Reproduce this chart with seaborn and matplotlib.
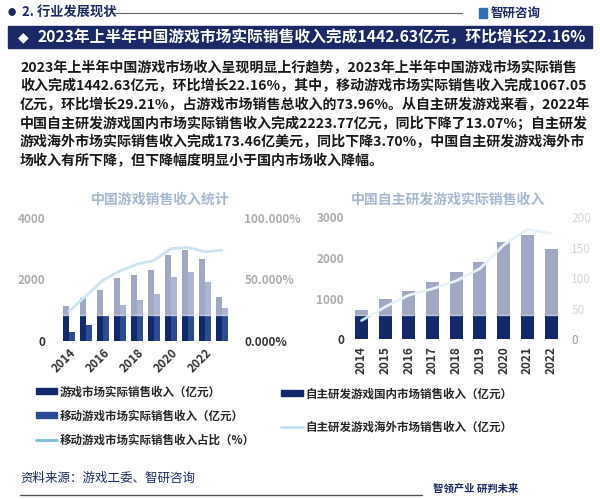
import numpy as np
import pandas as pd
import matplotlib
matplotlib.use("Agg")
import matplotlib.pyplot as plt
from matplotlib.patches import Rectangle, Patch
from matplotlib.lines import Line2D
from matplotlib.ticker import PercentFormatter
import seaborn as sns

# data
years_left = ["2014", "2015", "2016", "2017", "2018", "2019", "2020", "2021", "2022", "2023H1"]
game_rev = [1144.8, 1407.0, 1655.7, 2036.1, 2144.4, 2308.8, 2786.87, 2965.13, 2658.84, 1442.63]
mobile_rev = [274.9, 514.6, 819.2, 1161.2, 1339.6, 1513.7, 2096.76, 2255.38, 1930.58, 1067.05]
mobile_share = [24.0, 36.6, 49.5, 57.0, 62.5, 65.6, 75.2, 76.1, 72.6, 73.96]

years_right = ["2014", "2015", "2016", "2017", "2018", "2019", "2020", "2021", "2022"]
domestic_rev = [726.6, 986.7, 1182.2, 1397.4, 1643.9, 1895.1, 2401.92, 2558.19, 2223.77]
overseas_rev = [30.76, 53.1, 72.35, 82.8, 95.9, 115.9, 154.5, 180.13, 173.46]

left_labels = ["游戏市场实际销售收入（亿元）", "移动游戏市场实际销售收入（亿元）", "移动游戏市场实际销售收入占比（%）"]
right_labels = ["自主研发游戏国内市场销售收入（亿元）", "自主研发游戏海外市场销售收入（亿元）"]

headline = "2023年上半年中国游戏市场实际销售收入完成1442.63亿元，环比增长22.16%"
para = [
    "2023年上半年中国游戏市场收入呈现明显上行趋势，2023年上半年中国游戏市场实际销售",
    "收入完成1442.63亿元，环比增长22.16%，其中，移动游戏市场实际销售收入完成1067.05",
    "亿元，环比增长29.21%，占游戏市场销售总收入的73.96%。从自主研发游戏来看，2022年",
    "中国自主研发游戏国内市场实际销售收入完成2223.77亿元，同比下降了13.07%；自主研发",
    "游戏海外市场实际销售收入完成173.46亿美元，同比下降3.70%，中国自主研发游戏海外市",
    "场收入有所下降，但下降幅度明显小于国内市场收入降幅。",
]

NAVY = "#13286a"
MID = "#2c4b94"
LINE_L = "#7fbedb"
LINE_R = "#c2def0"
HEAD = "#1b2a66"

sns.set_theme(style="white")
plt.rcParams['font.family'] = ['Noto Sans CJK SC', 'DejaVu Sans']

W, H = 600, 499
fig = plt.figure(figsize=(6, 4.99), dpi=100)
fig.patch.set_facecolor("white")


def fx(x):
    return x / W


def fy(y):
    return 1 - y / H


# header
fig.text(fx(8), fy(13), "●", fontsize=6, color=HEAD, va="center")
fig.text(fx(22), fy(13), "2. 行业发展现状", fontsize=9.5, fontweight="bold", color=HEAD, va="center")
fig.add_artist(Line2D([fx(112), fx(462)], [fy(13), fy(13)], color="#666666", lw=0.8))
fig.add_artist(Rectangle((fx(479), fy(18)), 8 / W, 10 / H, color="#2f6fb5"))
fig.text(fx(491), fy(13), "智研咨询", fontsize=9, fontweight="bold", color=HEAD, va="center")

fig.add_artist(Rectangle((fx(8), fy(48)), 584 / W, 22 / H, color=HEAD))
fig.text(fx(18), fy(37), "◆", fontsize=10, color="white", va="center", family=['DejaVu Sans'])
fig.text(fx(37), fy(37), headline, fontsize=11.3, fontweight="bold", color="white", va="center")

for i, line in enumerate(para):
    fig.text(fx(20), fy(68 + i * 18.6), line, fontsize=10.1, fontweight="bold", color="#1a1a1a", va="center")

# left chart
ax1 = fig.add_axes([fx(60.5), fy(340.7), 170 / W, 122.4 / H])
df_left = pd.DataFrame({
    "year": years_left * 2,
    "value": game_rev + mobile_rev,
    "series": [left_labels[0]] * len(years_left) + [left_labels[1]] * len(years_left),
})
sns.barplot(data=df_left, x="year", y="value", hue="series", palette=[NAVY, MID],
            width=0.66, gap=0, saturation=1, linewidth=0, legend=False, ax=ax1)
ax1.set_ylim(0, 4000)
ax1.set_yticks([0, 2000, 4000])
ax1.set_xlim(-0.5, len(years_left) - 0.5)
ax1.set_xticks(range(0, len(years_left), 2))
ax1.set_xticklabels(years_left[::2], rotation=45, ha="right", rotation_mode="anchor",
                    fontsize=8.5, fontweight="bold", color="#333333")
ax1.set_xlabel("")
ax1.set_ylabel("")
ax1.tick_params(axis="y", length=0, pad=11, labelsize=8.5, labelcolor="#333333")
ax1.tick_params(axis="x", length=0, pad=4)
for t in ax1.get_yticklabels():
    t.set_fontweight("bold")

ax1b = ax1.twinx()
sns.lineplot(x=np.arange(len(years_left)), y=mobile_share, color=LINE_L, linewidth=2, ax=ax1b)
ax1b.set_ylim(0, 100)
ax1b.set_yticks([0, 50, 100])
ax1b.yaxis.set_major_formatter(PercentFormatter(xmax=100, decimals=3))
ax1b.tick_params(axis="y", length=0, pad=10, labelsize=8.5, labelcolor="#333333")
for t in ax1b.get_yticklabels():
    t.set_fontweight("bold")
ax1b.set_xlim(-0.5, len(years_left) - 0.5)
for a in (ax1, ax1b):
    for s in a.spines.values():
        s.set_visible(False)
    a.set_facecolor("none")

# right chart
ax2 = fig.add_axes([fx(349.6), fy(339.3), 213.3 / W, 122 / H])
sns.barplot(x=years_right, y=domestic_rev, color=NAVY, width=0.55, saturation=1, linewidth=0, ax=ax2)
ax2.set_ylim(0, 3000)
ax2.set_yticks([0, 1000, 2000, 3000])
ax2.set_xlim(-0.5, len(years_right) - 0.5)
ax2.set_xticks(range(len(years_right)))
ax2.set_xticklabels(years_right, rotation=90, ha="center", va="top",
                    fontsize=8.5, fontweight="bold", color="#333333")
ax2.tick_params(axis="y", length=0, pad=4, labelsize=8.5, labelcolor="#333333")
ax2.tick_params(axis="x", length=0, pad=5)
for t in ax2.get_yticklabels():
    t.set_fontweight("bold")

ax2b = ax2.twinx()
sns.lineplot(x=np.arange(len(years_right)), y=overseas_rev, color=LINE_R, linewidth=2, ax=ax2b)
ax2b.set_ylim(0, 200)
ax2b.set_yticks([0, 50, 100, 150, 200])
ax2b.tick_params(axis="y", length=0, pad=6, labelsize=8.5, labelcolor="#999999")
ax2b.set_xlim(-0.5, len(years_right) - 0.5)
for a in (ax2, ax2b):
    for s in a.spines.values():
        s.set_visible(False)
    a.set_facecolor("none")

# chart titles
fig.text(fx(160), fy(200), "中国游戏销售收入统计", fontsize=10, fontweight="bold", color="#1f4f8a",
         ha="center", va="center")
fig.text(fx(448), fy(200), "中国自主研发游戏实际销售收入", fontsize=10, fontweight="bold", color="#1f4f8a",
         ha="center", va="center")

# washed-out band over the top of both charts
fig.add_artist(Rectangle((0, fy(315)), 1, (315 - 186) / H, transform=fig.transFigure,
                         color="white", alpha=0.6, zorder=10))

# legends
h_left = [Patch(color=NAVY), Patch(color=MID), Line2D([], [], color=LINE_L, lw=2)]
fig.legend(h_left, left_labels, loc="upper left", bbox_to_anchor=(fx(26), fy(375)),
           frameon=False, handlelength=1.8, handleheight=0.45,
           handletextpad=0.2, labelspacing=0.95, prop={"size": 8.3, "weight": "bold"})
h_right = [Patch(color=NAVY), Line2D([], [], color=LINE_R, lw=2)]
fig.legend(h_right, right_labels, loc="upper left", bbox_to_anchor=(fx(271), fy(377)),
           frameon=False, handlelength=1.9, handleheight=0.45,
           handletextpad=0.2, labelspacing=1.75, prop={"size": 8.3, "weight": "bold"})

# footer
fig.text(fx(20), fy(478), "资料来源：游戏工委、智研咨询", fontsize=9, color=HEAD, va="center")
fig.add_artist(Line2D([fx(20), fx(422)], [fy(495), fy(495)], color="#555555", lw=1))
fig.text(fx(433), fy(488), "智领产业 研判未来", fontsize=7.5, fontweight="bold", color=HEAD, va="center")

fig.savefig("out.png", dpi=100)
